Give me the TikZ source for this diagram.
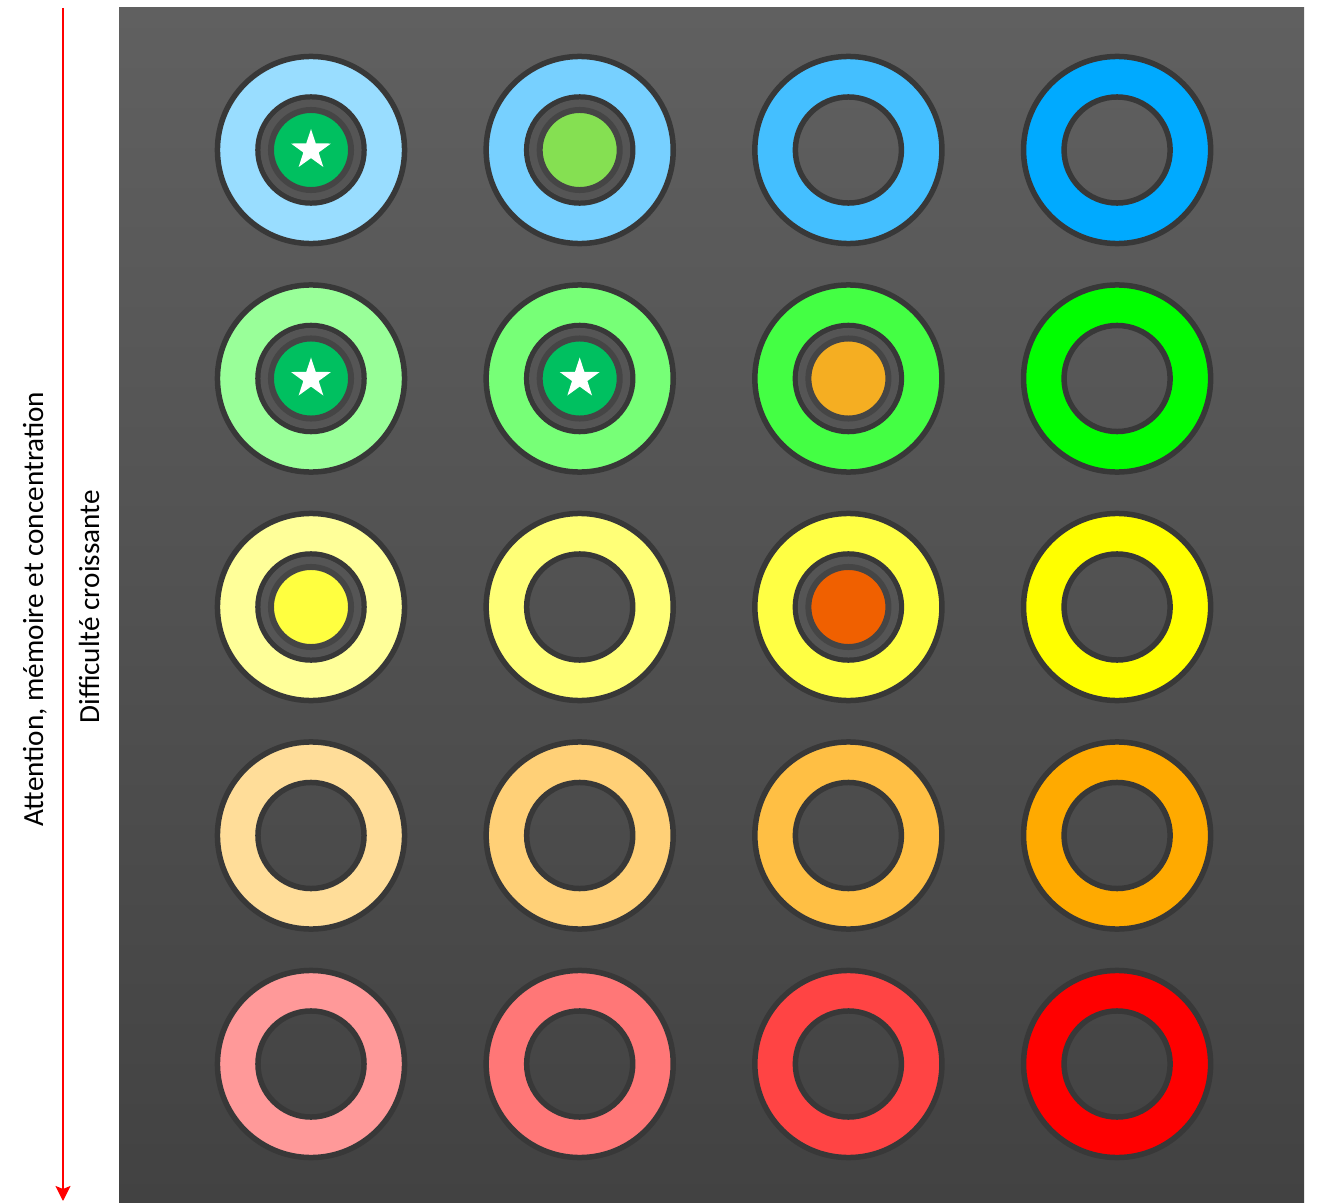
\documentclass[tikz,border=0pt]{standalone}
\usepackage{fontspec}
\setmainfont{Carlito}
\usetikzlibrary{shapes.geometric, arrows.meta}

\definecolor{fondhaut}{HTML}{606060}
\definecolor{fondbas}{HTML}{424242}
\definecolor{bord}{HTML}{383838}
\definecolor{creux}{HTML}{454545}
\definecolor{creuxclair}{HTML}{555555}
\definecolor{bleu1}{HTML}{99DDFF}
\definecolor{bleu2}{HTML}{77D0FF}
\definecolor{bleu3}{HTML}{44BFFF}
\definecolor{bleu4}{HTML}{00AAFF}
\definecolor{vert1}{HTML}{99FF99}
\definecolor{vert2}{HTML}{77FF77}
\definecolor{vert3}{HTML}{44FF44}
\definecolor{vert4}{HTML}{00FF00}
\definecolor{jaune1}{HTML}{FFFF99}
\definecolor{jaune2}{HTML}{FFFF77}
\definecolor{jaune3}{HTML}{FFFF44}
\definecolor{jaune4}{HTML}{FFFF00}
\definecolor{orange1}{HTML}{FFDD99}
\definecolor{orange2}{HTML}{FFD077}
\definecolor{orange3}{HTML}{FFBF44}
\definecolor{orange4}{HTML}{FFAA00}
\definecolor{rouge1}{HTML}{FF9999}
\definecolor{rouge2}{HTML}{FF7777}
\definecolor{rouge3}{HTML}{FF4444}
\definecolor{rouge4}{HTML}{FF0000}
\definecolor{vertfonce}{HTML}{00C060}
\definecolor{vertclair}{HTML}{85E052}
\definecolor{ambre}{HTML}{F5AE22}
\definecolor{jaunevif}{HTML}{FFFF40}
\definecolor{brique}{HTML}{F06000}

\begin{document}
\begin{tikzpicture}[
  x=0.01cm, y=-0.01cm,
  anneau/.style={fill=#1, draw=bord, line width=0.055cm, even odd rule},
  pastille/.style={circle, fill=#1, draw=creux, line width=0.06cm,
                   minimum size=0.8cm, inner sep=0pt},
  etoile/.style={star, star points=5, star point ratio=2.6, fill=white,
                 inner sep=0pt, minimum size=0.42cm},
  legende/.style={rotate=90, font=\fontsize{8.3}{10}\selectfont},
  fleche/.style={draw=red, line width=0.02cm,
                 -{Stealth[length=0.15cm, width=0.15cm, inset=0.03cm]}}
]
\useasboundingbox (0,0) rectangle (1317,1203);

%--------------------------------------------------------------
% Fond en degrade
%--------------------------------------------------------------
\shade[top color=fondhaut, bottom color=fondbas] (119,8) rectangle (1304,1203);

%--------------------------------------------------------------
% Grille des anneaux (5 familles x 4 niveaux)
%--------------------------------------------------------------
\foreach \ligne/\famille in {1/bleu, 2/vert, 3/jaune, 4/orange, 5/rouge}
  \foreach \col in {1,...,4} {
    \coordinate (c\ligne\col) at ({311+(\col-1)*268.7}, {150+(\ligne-1)*228.5});
    \path[anneau=\famille\col] (c\ligne\col) circle (0.935cm)
                               (c\ligne\col) circle (0.53cm);
  }

%--------------------------------------------------------------
% Pastilles pleines
%--------------------------------------------------------------
\foreach \cel/\teinte in {11/vertfonce, 12/vertclair, 21/vertfonce,
                          22/vertfonce, 23/ambre, 31/jaunevif, 33/brique} {
  \fill[creuxclair] (c\cel) circle (0.505cm);
  \node[pastille=\teinte] (p\cel) at (c\cel) {};
}

\foreach \cel in {11, 21, 22}
  \node[etoile] (e\cel) at (p\cel) {};

%--------------------------------------------------------------
% Axe et legendes
%--------------------------------------------------------------
\coordinate (haut) at (63,8);
\coordinate (bas) at (63,1201);
\draw[fleche] (haut) -- (bas);

\node[legende] (attention) at (35,609) {Attention, mémoire et concentration};
\node[legende] (difficulte) at (89,607) {Difficulté croissante};

\end{tikzpicture}
\end{document}
